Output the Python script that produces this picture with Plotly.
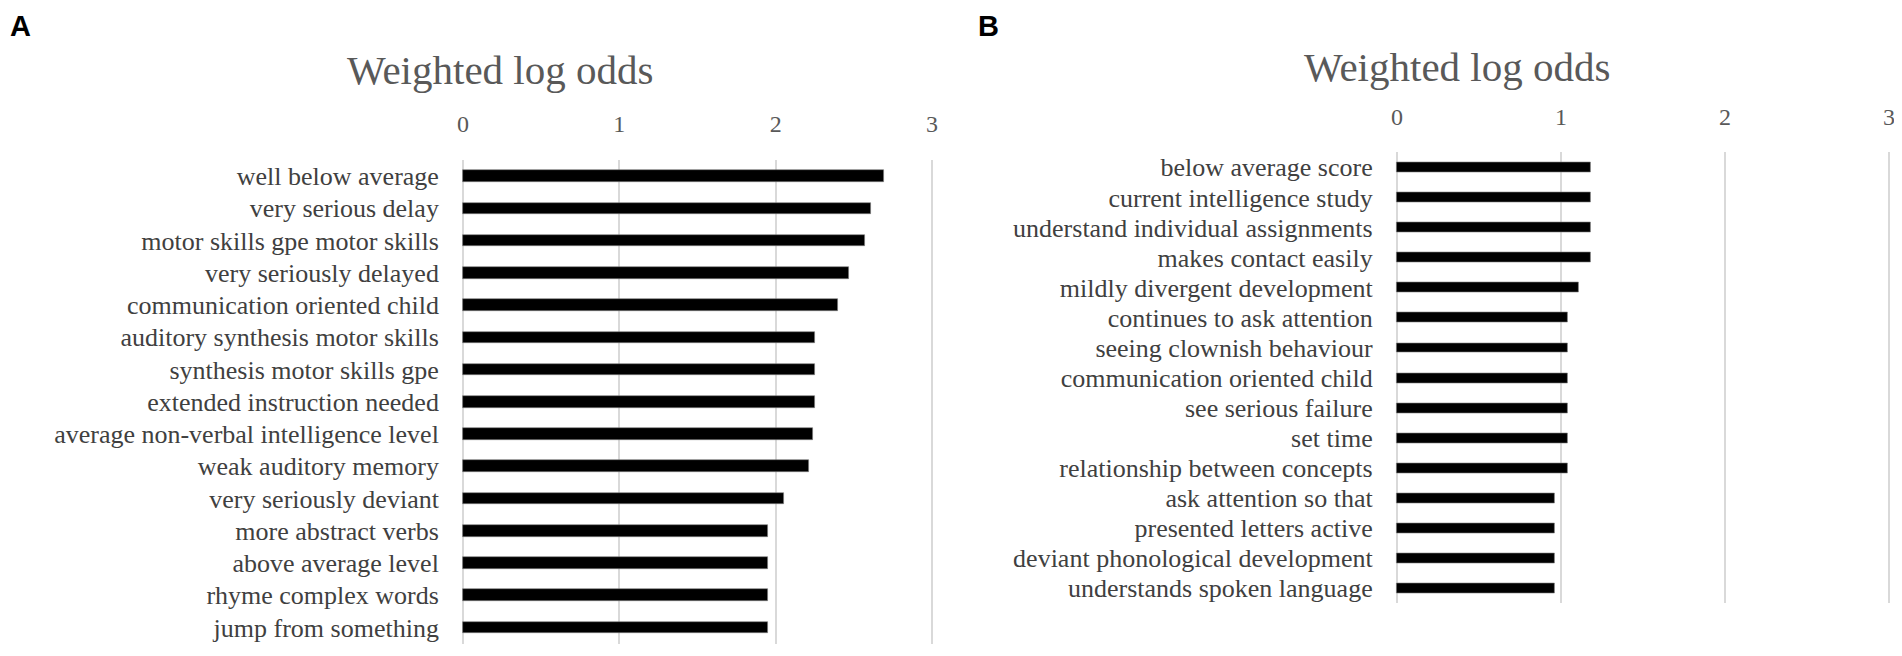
import plotly.graph_objects as go

# panel A
terms_a = [
    "well below average", "very serious delay", "motor skills gpe motor skills",
    "very seriously delayed", "communication oriented child",
    "auditory synthesis motor skills", "synthesis motor skills gpe",
    "extended instruction needed", "average non-verbal intelligence level",
    "weak auditory memory", "very seriously deviant", "more abstract verbs",
    "above average level", "rhyme complex words", "jump from something",
]
odds_a = [2.69, 2.61, 2.57, 2.47, 2.40, 2.25, 2.25, 2.25, 2.24, 2.21,
          2.05, 1.95, 1.95, 1.95, 1.95]

# panel B
terms_b = [
    "below average score", "current intelligence study",
    "understand individual assignments", "makes contact easily",
    "mildly divergent development", "continues to ask attention",
    "seeing clownish behaviour", "communication oriented child",
    "see serious failure", "set time", "relationship between concepts",
    "ask attention so that", "presented letters active",
    "deviant phonological development", "understands spoken language",
]
odds_b = [1.18, 1.18, 1.18, 1.18, 1.11, 1.04, 1.04, 1.04, 1.04, 1.04,
          1.04, 0.96, 0.96, 0.96, 0.96]

x_ticks = [0, 1, 2, 3]

serif = "Liberation Serif, Times New Roman, serif"

# page body has an 8px margin, so the figure is 16px smaller than the window
W, H = 1886, 640
PAD = 0.02  # keeps the 0 and 3 gridlines away from the plot edge so they get drawn

fig = go.Figure()
fig.add_trace(go.Bar(x=odds_a, y=terms_a, orientation="h", width=0.36,
                     marker=dict(color="black", line=dict(color="#7f7f7f", width=0.6)),
                     xaxis="x", yaxis="y", showlegend=False))
fig.add_trace(go.Bar(x=odds_b, y=terms_b, orientation="h", width=0.33,
                     marker=dict(color="black", line=dict(color="#7f7f7f", width=0.6)),
                     xaxis="x2", yaxis="y2", showlegend=False))

xa = dict(range=[-PAD, 3 + PAD], tickvals=x_ticks, side="top", showgrid=True,
          gridcolor="#d9d9d9", gridwidth=1.5, zeroline=False, showline=False,
          ticks="", ticklabelstandoff=22, automargin=False,
          ticklabeloverflow="allow",
          tickfont=dict(family=serif, size=24, color="#595959"))
ya = dict(type="category", autorange="reversed", showgrid=False, zeroline=False,
          showline=False, ticks="", ticklabelstandoff=20, automargin=False,
          tickfont=dict(family=serif, size=26, color="#404040"))

fig.update_layout(
    width=W, height=H,
    margin=dict(l=0, r=0, t=0, b=0),
    paper_bgcolor="white", plot_bgcolor="white",
    bargap=0,
    xaxis=dict(xa, domain=[451.9 / W, 927.1 / W], anchor="y"),
    yaxis=dict(ya, domain=[0.0069, 0.7625], anchor="x", tickvals=terms_a),
    xaxis2=dict(xa, domain=[1385.7 / W, 1884.3 / W], anchor="y2"),
    yaxis2=dict(ya, domain=[0.0697, 0.7745], anchor="x2", tickvals=terms_b),
    annotations=[
        dict(text="Weighted log odds", x=492 / W, y=(H - 62) / H,
             xref="paper", yref="paper", showarrow=False, xanchor="center",
             yanchor="middle", font=dict(family=serif, size=41, color="#595959")),
        dict(text="Weighted log odds", x=1449 / W, y=(H - 59) / H,
             xref="paper", yref="paper", showarrow=False, xanchor="center",
             yanchor="middle", font=dict(family=serif, size=41, color="#595959")),
        dict(text="<b>A</b>", x=12 / W, y=1, xref="paper",
             yref="paper", showarrow=False, xanchor="center", yanchor="top",
             font=dict(family="Liberation Sans, Arial, sans-serif", size=29, color="black")),
        dict(text="<b>B</b>", x=980 / W, y=1, xref="paper",
             yref="paper", showarrow=False, xanchor="center", yanchor="top",
             font=dict(family="Liberation Sans, Arial, sans-serif", size=29, color="black")),
    ],
)

fig.write_html("out.html")
